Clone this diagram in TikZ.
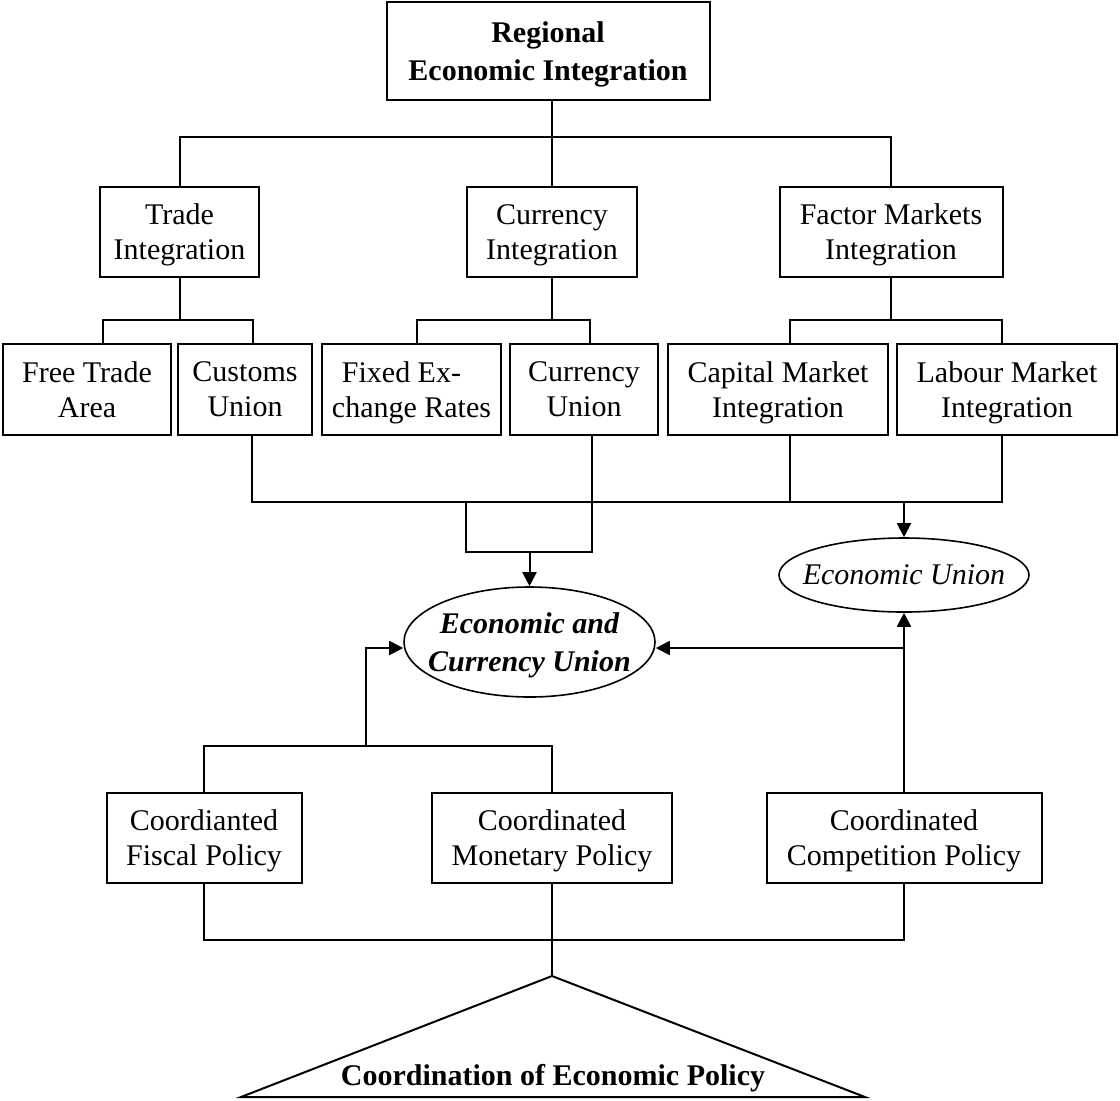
\documentclass[tikz,border=0pt]{standalone}
\usepackage{fontspec}
\setmainfont{Liberation Serif}
\usetikzlibrary{shapes.geometric,arrows.meta}
\begin{document}
\begin{tikzpicture}[x=0.5pt,y=-0.5pt, line width=1pt,
  box/.style={draw, rectangle, inner sep=0pt, align=center, text depth=0pt, font=\fontsize{15}{17.5}\selectfont, minimum height=45pt},
  oval/.style={draw, ellipse, inner sep=0pt, line width=0.8pt},
  lbl/.style={align=center, inner sep=0pt, text depth=0pt},
  arr/.style={-{Triangle[length=7pt,width=7pt]}}]
\useasboundingbox (0,0) rectangle (1120,1100);

% top
\node[box, font=\fontsize{15}{19}\selectfont\bfseries, minimum width=161.5pt, minimum height=49pt] (reg) at (548,51) {Regional\\Economic Integration};

% row 2
\node[box, minimum width=79.5pt] (trade) at (179.5,232) {Trade\\Integration};
\node[box, minimum width=85pt] (curr) at (552,232) {Currency\\Integration};
\node[box, minimum width=111.5pt] (factor) at (891,232) {Factor Markets\\Integration};

% row 3
\node[box, minimum width=84pt, minimum height=45.5pt] (fta) at (87,389.5) {Free Trade\\Area};
\node[box, minimum width=67pt, minimum height=45.5pt] (cu) at (245,389.5) {Customs\\Union};
\node[box, minimum width=89.5pt, minimum height=45.5pt] (fix) at (411.5,389.5) {Fixed Ex-\hspace*{10pt}\\change Rates};
\node[box, minimum width=74pt, minimum height=45.5pt] (curu) at (584,389.5) {Currency\\Union};
\node[box, minimum width=110pt, minimum height=45.5pt] (cap) at (778,389.5) {Capital Market\\Integration};
\node[box, minimum width=110pt, minimum height=45.5pt] (lab) at (1007,389.5) {Labour Market\\Integration};

% unions
\node[oval, minimum width=125pt, minimum height=37pt] (eu) at (904,575) {};
\node[lbl, font=\fontsize{15}{17.5}\selectfont\itshape] (eut) at (eu) {Economic Union};
\node[oval, minimum width=125.5pt, minimum height=55pt] (ecu) at (529.5,642) {};
\node[lbl, font=\fontsize{15}{19}\selectfont\bfseries\itshape] (ecut) at (ecu) {Economic and\\Currency Union};

% row 4
\node[box] (fisc) at (204,838) [minimum width=97.5pt] {Coordianted\\Fiscal Policy};
\node[box] (mon) at (552,838) [minimum width=120pt] {Coordinated\\Monetary Policy};
\node[box] (comp) at (904,838) [minimum width=137.5pt] {Coordinated\\Competition Policy};

% helper points
\coordinate (j1) at (552,137);
\coordinate (tb) at (179.5,320);
\coordinate (cb) at (552,320);
\coordinate (fb) at (891,320);
\coordinate (u2) at (1002,502);
\coordinate (u3) at (466,552);
\coordinate (u4) at (466,502);
\coordinate (u5) at (529.5,552);
\coordinate (u6) at (904,502);
\coordinate (e1) at (904,648);
\coordinate (p2) at (366,746);
\coordinate (b1) at (552,940);
\coordinate (apex) at (552,976);
\coordinate (tl) at (241,1097);
\coordinate (tr) at (865,1097);

% connectors
\draw (reg.south -| curr.north) -- (curr.north);
\draw (trade.north) |- (j1) -| (factor.north);
\draw (trade.south) -- (tb);
\draw ([xshift=8pt]fta.north) |- (tb) -| ([xshift=4pt]cu.north);
\draw (curr.south) -- (cb);
\draw ([xshift=2.75pt]fix.north) |- (cb) -| ([xshift=3pt]curu.north);
\draw (factor.south) -- (fb);
\draw ([xshift=6pt]cap.north) |- (fb) -| ([xshift=-2.5pt]lab.north);
\draw ([xshift=3.5pt]cu.south) |- (u2) -- ([xshift=-2.5pt]lab.south);
\draw ([xshift=6pt]cap.south) -- ++(0,67);
\draw ([xshift=4pt]curu.south) |- (u3) -- (u4);
\draw[arr] (u5) -- (ecu.north);
\draw[arr] (u6) -- (eu.north);
\draw[arr] (comp.north) -- (eu.south);
\draw[arr] (e1) -- (ecu.east |- e1);
\draw (fisc.north) |- (p2) -| (mon.north);
\draw[arr] (p2) |- (ecu.west |- e1);
\draw (fisc.south) |- (b1) -| (comp.south);
\draw (mon.south) -- (apex);
\draw (apex) -- (tl) -- (tr) -- cycle;
\node[anchor=base, inner sep=0pt, font=\fontsize{15}{17.5}\selectfont\bfseries] (coordtxt) at (553,1085) {Coordination of Economic Policy};
\end{tikzpicture}
\end{document}
